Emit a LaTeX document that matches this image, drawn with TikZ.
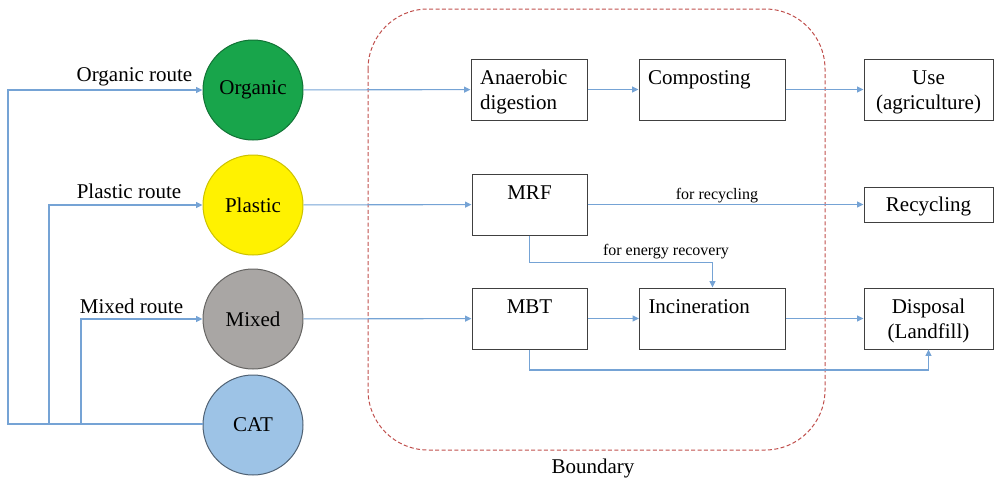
\documentclass[tikz,border=0pt]{standalone}
\usepackage{fontspec}
\setmainfont{Liberation Serif}
\usetikzlibrary{arrows.meta}

\definecolor{flowblue}{HTML}{75A3D5}
\definecolor{orggreen}{HTML}{18A54B}
\definecolor{plaorange}{HTML}{FFF200}
\definecolor{mixgrey}{HTML}{A9A6A4}
\definecolor{catblue}{HTML}{9DC3E6}
\definecolor{bndred}{HTML}{C0504D}

\begin{document}
\begin{tikzpicture}[x=0.5pt,y=-0.5pt,>={Triangle[length=3.2pt,width=3pt]},
                    font=\fontsize{10.5}{12.6}\selectfont]

  \tikzstyle{flow}=[flowblue,line width=0.55pt]
  \tikzstyle{waste}=[circle,draw,line width=0.5pt,minimum size=50pt,inner sep=0pt]
  \tikzstyle{plant}=[rectangle,draw=black!75,line width=0.5pt,fill=white,inner ysep=0pt,
                     text height=12.5pt,text depth=18pt]
  \tikzstyle{sink}=[plant,text width=64.5pt,inner xsep=0pt,align=center]
  \tikzstyle{flowlabel}=[anchor=base,font=\fontsize{8}{9.6}\selectfont]

  \useasboundingbox (0,0) rectangle (997,478);

  % system boundary
  \draw[bndred,line width=0.5pt,dash pattern=on 2pt off 1.2pt,rounded corners=30pt]
    (368,9) rectangle (825,450);
  \node[anchor=base] (BND) at (593,473) {Boundary};

  % waste streams
  \node[waste,fill=orggreen,draw=orggreen!70!black]  (ORG) at (253,90)  {Organic};
  \node[waste,fill=plaorange,draw=plaorange!80!black] (PLA) at (253,205) {Plastic};
  \node[waste,fill=mixgrey,draw=mixgrey!60!black]    (MIX) at (253,319) {Mixed};
  \node[waste,fill=catblue,draw=catblue!50!black]    (CAT) at (253,425) {CAT};

  \node[anchor=base] (ORGR) at (134.5,81) {Organic route};
  \node[anchor=base] (PLAR) at (129,198)  {Plastic route};
  \node[anchor=base] (MIXR) at (131.5,313) {Mixed route};

  % treatment
  \node[plant,text width=49pt,align=left,inner xsep=4.5pt] (AD)  at (529,89.5)   {Anaerobic\\digestion};
  \node[plant,text width=64pt,align=left,inner xsep=4.5pt] (COM) at (712,89.5)   {Composting};
  \node[plant,minimum width=57.5pt,inner xsep=0pt]         (MRF) at (529.5,204.5) {MRF};
  \node[plant,minimum width=57.5pt,inner xsep=0pt]         (MBT) at (529.5,318.5) {MBT};
  \node[plant,text width=64pt,align=left,inner xsep=4.5pt] (INC) at (712.5,318.5) {Incineration};

  % end points
  \node[sink] (USE) at (928.5,89.5)  {Use\\(agriculture)};
  \node[sink,text height=12.3pt,text depth=5.2pt] (REC) at (928.5,204.5) {Recycling};
  \node[sink] (DIS) at (928.5,318.5) {Disposal\\(Landfill)};

  \node[flowlabel] (FRC) at (717,199) {for recycling};
  \node[flowlabel] (FER) at (666,255) {for energy recovery};

  \coordinate (ORGTURN) at (8,424);
  \coordinate (PLATURN) at (49,424);
  \coordinate (MIXTURN) at (81,424);

  \draw[flow,->] (CAT.west |- ORGTURN) -- (ORGTURN) |- (ORG.west);
  \draw[flow,->] (PLATURN) |- (PLA.west);
  \draw[flow,->] (MIXTURN) |- (MIX.west);

  \path[flow,->]
  (ORG) edge (AD)
  (PLA) edge (MRF)
  (MIX) edge (MBT)
  (AD)  edge (COM)
  (COM) edge (USE)
  (MRF) edge (REC)
  (MBT) edge (INC)
  (INC) edge (DIS)
  ;

  \draw[flow,->] (MRF.south) -- ++(0,27) -| (INC.north);
  \draw[flow,->] (MBT.south) -- ++(0,20.5) -| (DIS.south);
\end{tikzpicture}
\end{document}
